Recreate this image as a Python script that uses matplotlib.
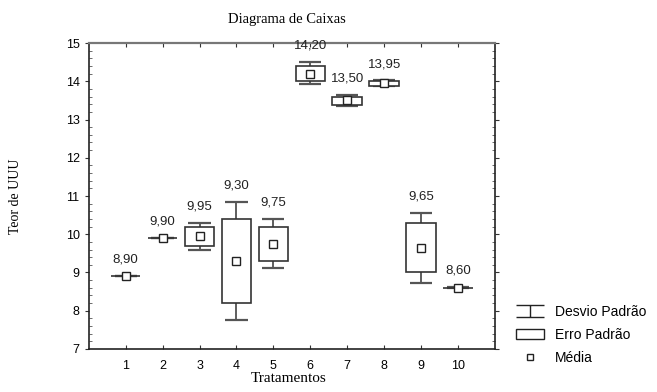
import matplotlib
matplotlib.use("Agg")
import matplotlib.pyplot as plt
import numpy as np
from matplotlib.lines import Line2D
from matplotlib.patches import Patch
from matplotlib.path import Path
from matplotlib.ticker import MultipleLocator

treatments = [1, 2, 3, 4, 5, 6, 7, 8, 9, 10]
means = [8.90, 9.90, 9.95, 9.30, 9.75, 14.20, 13.50, 13.95, 9.65, 8.60]
se_low = [8.90, 9.90, 9.70, 8.20, 9.30, 14.00, 13.38, 13.88, 9.00, 8.60]
se_high = [8.90, 9.90, 10.20, 10.40, 10.20, 14.40, 13.60, 14.01, 10.30, 8.60]
sd_low = [8.90, 9.90, 9.60, 7.75, 9.12, 13.92, 13.35, 13.87, 8.73, 8.59]
sd_high = [8.90, 9.90, 10.30, 10.85, 10.40, 14.50, 13.63, 14.02, 10.56, 8.61]
labels = ["8,90", "9,90", "9,95", "9,30", "9,75", "14,20", "13,50", "13,95", "9,65", "8,60"]

sans = ["Liberation Sans", "DejaVu Sans"]
serif = ["Liberation Serif", "DejaVu Serif"]
plt.rcParams['font.family'] = sans

fig = plt.figure(figsize=(6.57, 3.92), dpi=100)
ax = fig.add_axes([0.135, 0.1097, 0.6184, 0.7806])

x = np.array(treatments, dtype=float)
lo = np.array(se_low); hi = np.array(se_high)
box_w = 0.80
cap_w = 0.60
edge = "#333333"

# whiskers
ax.vlines(x, sd_low, lo, color=edge, lw=1.1, zorder=2)
ax.vlines(x, hi, sd_high, color=edge, lw=1.1, zorder=2)
ax.hlines(sd_low, x - cap_w / 2, x + cap_w / 2, color="#555555", lw=1.6, zorder=2)
ax.hlines(sd_high, x - cap_w / 2, x + cap_w / 2, color="#555555", lw=1.6, zorder=2)
# boxes
ax.bar(x, hi - lo, bottom=lo, width=box_w, facecolor="white", edgecolor=edge, lw=1.2, zorder=3)
# means
ax.plot(x, means, ls="none", marker="s", ms=5.5, mfc="white", mec="#222222", mew=1.0, zorder=4)

for xi, top, lab in zip(x, sd_high, labels):
    ax.annotate(lab, (xi, top), xytext=(0, 7.5), textcoords="offset points",
                ha="center", va="bottom", fontsize=9.5, color="#222222")

ax.set_xlim(0, 11)
ax.set_ylim(7, 15)
ax.set_xticks(treatments)
ax.set_yticks(np.arange(7, 16, 1))
ax.yaxis.set_minor_locator(MultipleLocator(0.2))
ax.tick_params(axis="x", direction="in", length=3, labelsize=9, top=True, pad=8, color="#333333")
ax.tick_params(axis="y", which="major", direction="out", length=3, labelsize=9, color="#333333")
ax.tick_params(axis="y", which="minor", direction="in", length=2, right=True, color="#555555")
ax.tick_params(axis="y", which="major", right=True)
for s in ["left", "bottom", "right"]:
    ax.spines[s].set_color("#222222")
    ax.spines[s].set_linewidth(1.2)
ax.spines["top"].set_color("#777777")
ax.spines["top"].set_linewidth(1.6)

fig.text(0.437, 0.949, "Diagrama de Caixas", ha="center", va="center", fontsize=10.5, family=serif)
fig.text(0.023, 0.5, "Teor de UUU", ha="center", va="center", rotation=90, fontsize=10, family=serif)
fig.text(0.44, 0.035, "Tratamentos", ha="center", va="center", fontsize=11, family=serif)

ibeam = Path([(-1, 0.45), (1, 0.45), (0, 0.45), (0, -0.45), (-1, -0.45), (1, -0.45)],
             [Path.MOVETO, Path.LINETO, Path.MOVETO, Path.LINETO, Path.MOVETO, Path.LINETO])
handles = [
    Line2D([], [], ls="none", marker=ibeam, ms=20, mec="#222222", mew=1.0),
    Patch(facecolor="white", edgecolor="#222222", lw=1.0),
    Line2D([], [], ls="none", marker="s", ms=5, mfc="white", mec="#222222", mew=1.0),
]
fig.legend(handles, ["Desvio Padrão", "Erro Padrão", "Média"], loc="center left",
           bbox_to_anchor=(0.775, 0.145), frameon=False, fontsize=10,
           handlelength=2.0, handletextpad=0.8, labelspacing=0.65, borderpad=0)

fig.savefig("out.png", dpi=100)
